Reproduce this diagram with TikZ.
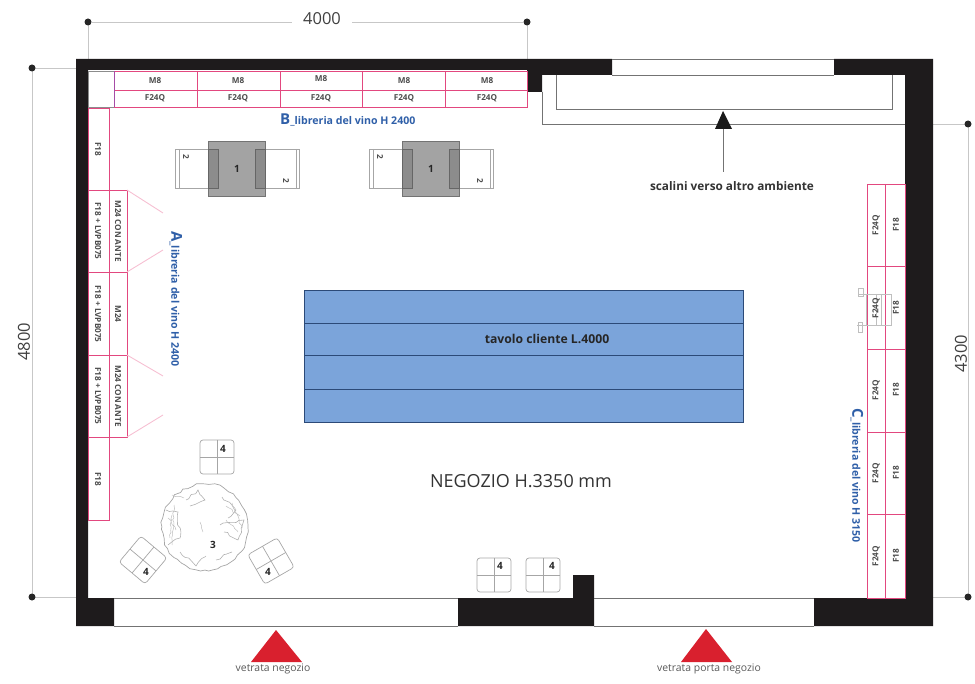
\documentclass[tikz,border=0pt]{standalone}
\usepackage{fontspec}
\setmainfont{Open Sans}
\usetikzlibrary{decorations.pathmorphing}
\definecolor{wallk}{HTML}{1E1B1C}
\definecolor{pinkl}{HTML}{E2487F}
\definecolor{pinkd}{HTML}{F6BFD2}
\definecolor{labelb}{HTML}{2F5FA8}
\definecolor{tableb}{HTML}{7BA4DA}
\definecolor{tablel}{HTML}{2C4A78}
\definecolor{redt}{HTML}{D9202E}
\tikzset{
	wall/.style={fill=wallk, draw=none},
	line/.style={draw=black!55, line width=.9pt},
	dim/.style={draw=black!22, line width=.5pt},
	dimdot/.style={circle, fill=black!85, inner sep=0pt, minimum size=7pt},
	dimtext/.style={font=\fontsize{16.5}{18}\selectfont, text=black!75},
	lib/.style={draw=pinkl, line width=.7pt},
	tag/.style={font=\fontsize{8.2}{9}\bfseries\selectfont, text=black!70, inner sep=0pt},
	vino/.style={font=\fontsize{10.6}{11}\bfseries\selectfont, text=labelb, inner sep=0pt},
	entry/.style={font=\fontsize{10.4}{11}\selectfont, text=black!65, inner sep=0pt},
	num/.style={font=\fontsize{10}{11}\bfseries\selectfont, text=black!85, inner sep=0pt},
	furn/.style={draw=black!35, line width=.5pt},
	seat/.style={fill=black!36, draw=black!55, line width=.8pt},
	stool/.pic={
		\draw[furn, rounded corners=3pt, line width=.7pt] (-17,-17) rectangle (17,17);
		\draw[furn, line width=.7pt] (-17,0) -- (17,0) (0,-17) -- (0,17);
	},
	armchair/.pic={
		\draw[furn] (-62,-19.5) rectangle (62,19.5);
		\draw[furn] (-58,-19.5) -- (-58,19.5) (59,-19.5) -- (59,19.5);
		\draw[seat] (-29,-27.5) rectangle (28,27.5);
		\draw[furn, draw=black!60, fill=black!45] (-29,-19.5) rectangle (-19,19.5);
		\draw[furn, draw=black!60, fill=black!45] (18,-19.5) rectangle (28,19.5);
	},
}
\begin{document}
\begin{tikzpicture}[x=1pt,y=-1pt]
\useasboundingbox (0,0) rectangle (975,684);
\pgfmathsetseed{7}

% dimensions
\draw[dim]	(88,22) -- (88,59) (527,22) -- (527,59);
\draw[dim]	(32,68) -- (32,597) (32,68) -- (76,68) (32,597) -- (76,597);
\draw[dim]	(968,124) -- (968,597) (933,124) -- (968,124) (933,597) -- (968,597);
\node[dimdot]	(dim_t1)	at (88,22)		{};
\node[dimdot]	(dim_t2)	at (527,22)		{};
\node[dimdot]	(dim_l1)	at (32,68)		{};
\node[dimdot]	(dim_l2)	at (32,597)		{};
\node[dimdot]	(dim_r1)	at (968,124)	{};
\node[dimdot]	(dim_r2)	at (968,597)	{};
\draw[dim]	(dim_t1) -- (292,22) (352,22) -- (dim_t2);
\node[dimtext]			(dim_4000)	at (322,19)		{4000};
\node[dimtext,rotate=90]	(dim_4800)	at (24,342)		{4800};
\node[dimtext,rotate=90]	(dim_4300)	at (961,354)	{4300};

% walls
\fill[wall]	(76,59) -- (612,59) -- (612,75) -- (542,75) -- (542,92) -- (527,92) -- (527,70) -- (88,70) -- (88,598) -- (114,598) -- (114,626) -- (76,626) -- cycle;
\fill[wall]	(834,59) -- (933,59) -- (933,626) -- (814,626) -- (814,598) -- (905,598) -- (905,75) -- (834,75) -- cycle;
\fill[wall]	(458,598) -- (573,598) -- (573,575) -- (594,575) -- (594,626) -- (458,626) -- cycle;
\draw[line]	(612,59) -- (834,59) (612,75) -- (834,75);
\draw[line]	(114,598) -- (458,598) (114,626) -- (458,626);
\draw[line]	(594,598) -- (814,598) (594,626) -- (814,626);

% steps
\draw[line]	(542,92) -- (542,124) -- (905,124);
\draw[line]	(556,75) -- (556,109) -- (892,109) -- (892,75);
\fill[fill=black!90]	(723,111) -- (732,129) -- (715,129) -- cycle;
\draw[line]	(723,129) -- (723,172);
\node[font=\fontsize{11.8}{12}\bfseries\selectfont, text=black!80, inner sep=0pt]	(steps)	at (732,186)	{scalini verso altro ambiente};

% library B
\draw[draw=black!45, line width=.6pt]	(88,71) rectangle (114,107);
\draw[lib]	(114,71) rectangle (527,107) (114,90) -- (527,90);
\draw[draw=violet!70, line width=1pt]	(114,71) -- (114,107);
\foreach \x in {197,280,362,445}
	\draw[lib]	(\x,71) -- (\x,107);
\foreach \x/\y in {155/81,238/81,321/79,404/81,487/81}
	\node[tag]	at (\x,\y)	{M8};
\foreach \x in {155,238,321,404,487}
	\node[tag]	at (\x,98)	{F24Q};
\node[vino, anchor=west]	(lib_b)	at (280,120)	{{\fontsize{15}{15}\selectfont B}\_libreria del vino H 2400};

% library A
\draw[lib]	(88,108) rectangle (109,520) (109,190) rectangle (127,437);
\foreach \y in {190,272,355,437}
	\draw[lib]	(88,\y) -- (127,\y);
\foreach \y/\a in {190/213,272/250,355/376,437/415}
	\draw[draw=pinkd, line width=.9pt]	(127,\y) -- (163,\a);
\foreach \y/\t in {149/F18,231/F18 + LVPB075,314/F18 + LVPB075,396/F18 + LVPB075,479/F18}
	\node[tag,rotate=-90]	at (98,\y)	{\t};
\foreach \y/\t in {231/M24 CON ANTE,314/M24,396/M24 CON ANTE}
	\node[tag,rotate=-90]	at (118,\y)	{\t};
\node[vino, rotate=-90, anchor=west]	(lib_a)	at (176,231)	{{\fontsize{15}{15}\selectfont A}\_libreria del vino H 2400};

% library C
\draw[lib]	(867,184) rectangle (905,598) (885,184) -- (885,598);
\foreach \y in {266,349,432,514}
	\draw[lib]	(867,\y) -- (905,\y);
\draw[draw=black!25, line width=.8pt]	(858,288) rectangle (863,296) (858,294) -- (891,294) -- (891,325) -- (857,325) (866,294) -- (866,325) (876,294) -- (876,325) (881,294) -- (881,325) (858,322) rectangle (862,332);
\foreach \y in {225,308,390,473,556}
	\node[tag,rotate=90]	at (876,\y)	{F24Q};
\foreach \y in {225,308,390,473,556}
	\node[tag,rotate=90]	at (896,\y)	{F18};
\node[vino, rotate=-90, anchor=west]	(lib_c)	at (857,408)	{{\fontsize{15}{15}\selectfont C}\_libreria del vino H 3150};

% armchairs
\pic	at (237,168.5)	{armchair};
\pic	at (431,168.5)	{armchair};
\foreach \x in {237,431}{
	\node[num]	at (\x,169)	{1};
	\node[tag,rotate=-90]	at (\x-51,157)	{2};
	\node[tag,rotate=-90]	at (\x+49,181)	{2};
}

% customer table
\draw[fill=tableb, draw=tablel, line width=.7pt]	(304,290) rectangle (743,422);
\draw[draw=tablel, line width=.7pt]	(304,323) -- (743,323) (304,355) -- (743,355) (304,389) -- (743,389);
\node[font=\fontsize{12.2}{13}\bfseries\selectfont, text=black!85, inner sep=0pt]	(table)	at (547,339)	{tavolo cliente L.4000};
\node[font=\fontsize{18}{19}\selectfont, text=black!80, inner sep=0pt]	(shop)	at (521,481)	{NEGOZIO H.3350 mm};

% round table
\draw[furn, draw=black!35, line width=.7pt, decorate, decoration={random steps,segment length=5pt,amplitude=1.2pt}]	(205,527) circle (43);
\draw[furn, draw=black!30, line width=.6pt, decorate, decoration={random steps,segment length=4pt,amplitude=1.5pt}]	(166,510) -- (178,512) -- (180,538) -- (168,545) (186,500) -- (198,490) -- (205,500) -- (190,506) (222,497) -- (236,510) -- (228,518) (220,525) -- (244,520) -- (238,540) -- (224,532) (180,552) -- (196,566) -- (206,556) (216,560) -- (232,552);
\draw[furn, draw=black!25, line width=.5pt, decorate, decoration={random steps,segment length=3pt,amplitude=1pt}]	(168,518) -- (176,530) (172,515) -- (170,538) (226,506) -- (240,516) (226,520) -- (238,532) (200,522) -- (203,532) (174,505) -- (172,545) (232,503) -- (242,528) (172,495) -- (184,498);
\node[num]	(tbl_3)	at (213,545)	{3};

% stools
\pic	at (217,457)				{stool};
\pic[rotate=-40]	at (143,560)	{stool};
\pic[rotate=30]	at (271,561)		{stool};
\pic	at (494,575)				{stool};
\pic	at (543,575)				{stool};
\foreach \x/\y in {223/449,146/572,268/572,500/566,552/566}
	\node[num]	at (\x,\y)	{4};

% entrances
\fill[redt]	(276,630) -- (302,662) -- (251,662) -- cycle;
\fill[redt]	(706,629) -- (732,662) -- (681,662) -- cycle;
\node[entry]	(entry_1)	at (273,669)	{vetrata negozio};
\node[entry]	(entry_2)	at (709,669)	{vetrata porta negozio};
\end{tikzpicture}
\end{document}
